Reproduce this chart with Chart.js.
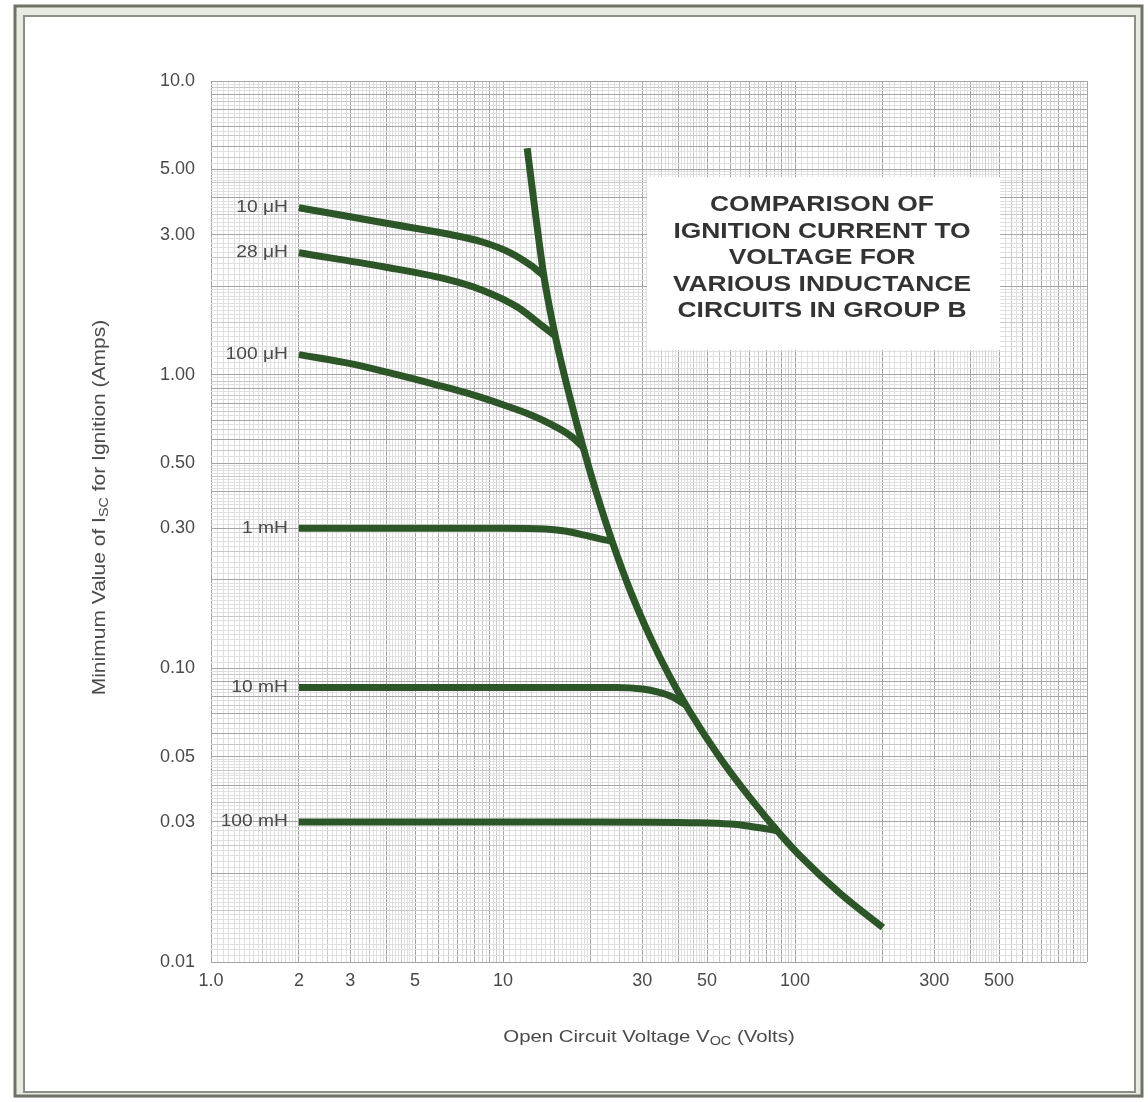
<!DOCTYPE html>
<html>
<head>
<meta charset="utf-8">
<script src="https://cdn.jsdelivr.net/npm/chart.js@4.4.0/dist/chart.umd.min.js"></script>
<style>
  html, body { margin: 0; padding: 0; background: #fff; }
  canvas { display: block; }
</style>
</head>
<body>
<canvas id="ignitionChart" width="1148" height="1102"></canvas>
<script>
// limiting curve (all inductances meet it)
const limitV = [12.1, 13.0, 13.8, 15.1, 17.0, 18.8, 21.0, 23.6, 27.2, 31.9, 37.3, 43.7, 55.4, 70.2, 88.8, 104, 143, 200];
const limitI = [5.9, 3.36, 2.17, 1.355, 0.827, 0.567, 0.389, 0.272, 0.185, 0.128, 0.0935, 0.071, 0.0495, 0.0362, 0.0273, 0.023, 0.0171, 0.0131];

// branch curves, one per inductance
const curveNames = ['10 μH', '28 μH', '100 μH', '1 mH', '10 mH', '100 mH'];
const v10uH = [2, 3, 3.9, 6.6, 8.5, 10.6, 12.5, 13.8];
const i10uH = [3.7, 3.45, 3.29, 3.0, 2.83, 2.6, 2.35, 2.17];
const v28uH = [2, 3.9, 6.6, 8.5, 11.2, 13.7, 15.1];
const i28uH = [2.6, 2.33, 2.1, 1.94, 1.7, 1.46, 1.355];
const v100uH = [2, 3, 4, 6, 8, 10, 12, 14.5, 17, 18.8];
const i100uH = [1.17, 1.09, 1.02, 0.92, 0.85, 0.79, 0.74, 0.68, 0.62, 0.567];
const v1mH = [2, 5, 10, 14, 16.5, 19, 21.5, 23.6];
const i1mH = [0.30, 0.30, 0.30, 0.298, 0.293, 0.284, 0.276, 0.271];
const v10mH = [2, 10, 24.5, 30, 34, 38, 42.4];
const i10mH = [0.086, 0.086, 0.086, 0.085, 0.083, 0.08, 0.0748];
const v100mH = [2, 20, 47, 60, 70, 80, 86.8];
const i100mH = [0.03, 0.03, 0.0298, 0.0295, 0.029, 0.0284, 0.028];

const xTickValues = [1, 2, 3, 5, 10, 30, 50, 100, 300, 500];
const xTickLabels = ['1.0', '2', '3', '5', '10', '30', '50', '100', '300', '500'];
const yTickValues = [10, 5, 3, 1, 0.5, 0.3, 0.1, 0.05, 0.03, 0.01];
const yTickLabels = ['10.0', '5.00', '3.00', '1.00', '0.50', '0.30', '0.10', '0.05', '0.03', '0.01'];

const titleLines = ['COMPARISON OF', 'IGNITION CURRENT TO', 'VOLTAGE FOR', 'VARIOUS INDUCTANCE', 'CIRCUITS IN GROUP B'];

const lineColor = '#2d5628';
const textColor = '#4a4a4a';
const stretch = 1.2; // the scanned lettering is wide

function toPoints(xs, ys) {
    return xs.map((x, i) => ({ x: x, y: ys[i] }));
}

// graph-paper rulings for a log axis
function paperLines(lo, hi) {
    const out = [];
    for (let p = lo; p < hi; p++) {
        const base = Math.pow(10, p);
        for (let k = 20; k < 40; k++) out.push(k / 20 * base);
        for (let k = 20; k < 50; k++) out.push(k / 10 * base);
        for (let k = 20; k < 40; k++) out.push(k / 4 * base);
    }
    out.push(Math.pow(10, hi));
    return out.map(v => parseFloat(v.toPrecision(6)));
}

function mantissa(v) {
    return v / Math.pow(10, Math.floor(Math.log10(v) + 1e-9));
}

function paperColor(v) {
    const m = mantissa(v);
    if (Math.abs(m - Math.round(m)) < 1e-6) return '#a4a4a4';
    if (Math.abs(m * 2 - Math.round(m * 2)) < 1e-6) return '#c8c8c8';
    return '#e0e0e0';
}

function findLabel(values, labels, v) {
    for (let i = 0; i < values.length; i++) {
        if (Math.abs(v / values[i] - 1) < 1e-6) return labels[i];
    }
    return '';
}

function stretchedWidth(ctx, text) {
    return ctx.measureText(text).width * stretch;
}

function drawStretched(ctx, text, x, y) {
    ctx.save();
    ctx.translate(x, y);
    ctx.scale(stretch, 1);
    ctx.textAlign = 'left';
    ctx.fillText(text, 0, 0);
    ctx.restore();
}

// draws "pre" + subscript + "post" centred on (0,0) of the current transform
function drawWithSub(ctx, pre, sub, post, size) {
    const mainFont = size + 'px "Liberation Sans", Arial, sans-serif';
    const subFont = Math.round(size * 0.68) + 'px "Liberation Sans", Arial, sans-serif';
    ctx.font = mainFont;
    const w1 = stretchedWidth(ctx, pre);
    const w3 = stretchedWidth(ctx, post);
    ctx.font = subFont;
    const w2 = stretchedWidth(ctx, sub);
    let x = -(w1 + w2 + w3) / 2;
    ctx.textBaseline = 'middle';
    ctx.font = mainFont;
    drawStretched(ctx, pre, x, 0);
    x += w1;
    ctx.font = subFont;
    drawStretched(ctx, sub, x, size * 0.28);
    x += w2;
    ctx.font = mainFont;
    drawStretched(ctx, post, x, 0);
}

const paperPlugin = {
    id: 'paper',
    beforeDraw(chart) {
        const ctx = chart.ctx;
        ctx.save();
        ctx.fillStyle = '#ffffff';
        ctx.fillRect(0, 0, chart.width, chart.height);
        // double frame of the printed page
        ctx.fillStyle = '#e7ebe2';
        ctx.fillRect(14, 5, 1129, 12);
        ctx.fillRect(14, 5, 11, 1093);
        ctx.fillRect(1135, 5, 8, 1093);
        ctx.fillRect(14, 1091, 1129, 7);
        ctx.strokeStyle = '#6e7269';
        ctx.lineWidth = 3;
        ctx.strokeRect(15, 6, 1127, 1090);
        ctx.strokeStyle = '#8b8f86';
        ctx.lineWidth = 2;
        ctx.strokeRect(24, 16, 1111, 1076);
        ctx.restore();
    },
    beforeDatasetsDraw(chart) {
        const ctx = chart.ctx;
        ctx.save();
        ctx.fillStyle = '#ffffff';
        ctx.fillRect(647, 177, 353, 173);
        ctx.fillStyle = '#333333';
        ctx.font = 'bold 22px "Liberation Sans", Arial, sans-serif';
        ctx.textBaseline = 'middle';
        titleLines.forEach((line, i) => {
            const w = stretchedWidth(ctx, line);
            drawStretched(ctx, line, 822 - w / 2, 205 + i * 26.5);
        });
        ctx.restore();
    },
    afterDatasetsDraw(chart) {
        const ctx = chart.ctx;
        const area = chart.chartArea;
        ctx.save();
        ctx.fillStyle = textColor;
        ctx.font = '16px "Liberation Sans", Arial, sans-serif';
        ctx.textBaseline = 'middle';
        // inductance labels at the left end of each branch
        curveNames.forEach((name, i) => {
            const first = chart.getDatasetMeta(i + 1).data[0];
            const w = stretchedWidth(ctx, name);
            drawStretched(ctx, name, first.x - 11 - w, first.y);
        });
        // axis titles with subscripts
        ctx.save();
        ctx.translate((area.left + area.right) / 2, 1037);
        drawWithSub(ctx, 'Open Circuit Voltage V', 'OC', ' (Volts)', 17);
        ctx.restore();
        ctx.save();
        ctx.translate(100, (area.top + area.bottom) / 2 - 14);
        ctx.rotate(-Math.PI / 2);
        drawWithSub(ctx, 'Minimum Value of I', 'SC', ' for Ignition (Amps)', 17.5);
        ctx.restore();
        ctx.restore();
    }
};

function makeSet(label, xs, ys) {
    return {
        label: label,
        data: toPoints(xs, ys),
        showLine: true,
        borderColor: lineColor,
        backgroundColor: lineColor,
        borderWidth: 7,
        borderCapStyle: 'butt',
        pointRadius: 0,
        cubicInterpolationMode: 'monotone',
        fill: false
    };
}

const datasets = [
    makeSet('limit', limitV, limitI),
    makeSet(curveNames[0], v10uH, i10uH),
    makeSet(curveNames[1], v28uH, i28uH),
    makeSet(curveNames[2], v100uH, i100uH),
    makeSet(curveNames[3], v1mH, i1mH),
    makeSet(curveNames[4], v10mH, i10mH),
    makeSet(curveNames[5], v100mH, i100mH)
];

const tickFont = { family: '"Liberation Sans", Arial, sans-serif', size: 18 };

new Chart(document.getElementById('ignitionChart').getContext('2d'), {
    type: 'scatter',
    data: { datasets: datasets },
    options: {
        responsive: false,
        animation: false,
        layout: { padding: { top: 81, right: 61, left: 0, bottom: 0 } },
        plugins: {
            legend: { display: false },
            tooltip: { enabled: false }
        },
        scales: {
            x: {
                type: 'logarithmic',
                min: 1,
                max: 1000,
                afterBuildTicks: scale => {
                    scale.ticks = paperLines(0, 3).map(v => ({ value: v }));
                },
                afterFit: scale => { scale.height = 140; },
                ticks: {
                    autoSkip: false,
                    maxRotation: 0,
                    padding: 8,
                    color: textColor,
                    font: tickFont,
                    callback: v => findLabel(xTickValues, xTickLabels, v)
                },
                grid: {
                    drawTicks: false,
                    lineWidth: 1,
                    color: c => paperColor(c.tick.value)
                },
                border: { display: false }
            },
            y: {
                type: 'logarithmic',
                min: 0.01,
                max: 10,
                afterBuildTicks: scale => {
                    scale.ticks = paperLines(-2, 1).map(v => ({ value: v }));
                },
                afterFit: scale => { scale.width = 211; },
                ticks: {
                    autoSkip: false,
                    padding: 16,
                    color: textColor,
                    font: tickFont,
                    callback: v => findLabel(yTickValues, yTickLabels, v)
                },
                grid: {
                    drawTicks: false,
                    lineWidth: 1,
                    color: c => paperColor(c.tick.value)
                },
                border: { display: false }
            }
        }
    },
    plugins: [paperPlugin]
});
</script>
</body>
</html>
